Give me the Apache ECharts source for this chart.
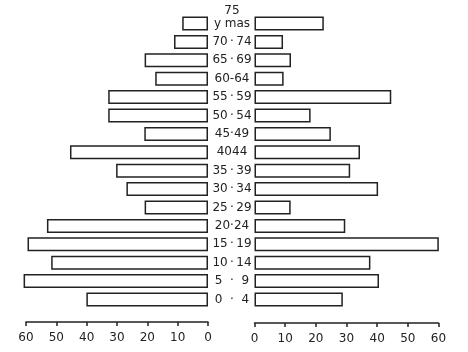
<!DOCTYPE html>
<html>
<head>
<meta charset="utf-8">
<script src="https://cdn.jsdelivr.net/npm/echarts@6/dist/echarts.min.js"></script>
<style>
  html, body { margin: 0; padding: 0; background: #fff; }
  #chart { width: 468px; height: 352px; }
</style>
</head>
<body>
<div id="chart"></div>
<script>
// Age groups, bottom to top
const ageGroups = [
  '0  \u00b7  4', '5  \u00b7  9', '10\u2009\u00b7\u200914', '15\u2009\u00b7\u200919',
  '20\u00b724', '25\u2009\u00b7\u200929', '30\u2009\u00b7\u200934', '35\u2009\u00b7\u200939',
  '4044', '45\u00b749', '50\u2009\u00b7\u200954', '55\u2009\u00b7\u200959',
  '60-64', '65\u2009\u00b7\u200969', '70\u2009\u00b7\u200974', '75\ny mas'
];
// Left side of the pyramid
const leftValues = [40.1, 60.8, 51.7, 59.5, 53.1, 20.9, 26.9, 30.3, 45.5, 21.0, 32.9, 32.9, 17.4, 20.9, 11.2, 8.5];
// Right side of the pyramid
const rightValues = [28.8, 40.6, 37.8, 60.1, 29.6, 11.8, 40.3, 31.2, 34.4, 24.9, 18.3, 44.6, 9.5, 11.9, 9.3, 22.6];
// Scale ticks shared by both sides
const scaleMin = 0, scaleMax = 60, scaleStep = 10;

const ink = '#222';
const font = 'DejaVu Sans';

const chart = echarts.init(document.getElementById('chart'), null, { renderer: 'canvas' });

const valueAxis = (gridIndex, inverse, offset) => ({
  type: 'value', gridIndex, inverse,
  min: scaleMin, max: scaleMax, interval: scaleStep,
  position: 'bottom', offset,
  splitLine: { show: false },
  axisLine: { show: true, lineStyle: { color: ink, width: 1.5 } },
  axisTick: { show: true, length: 4, lineStyle: { color: ink, width: 1.5 } },
  axisLabel: { color: ink, fontFamily: font, fontSize: 12, margin: 10 }
});

const barSeries = (idx, data) => ({
  type: 'bar', xAxisIndex: idx, yAxisIndex: idx, data,
  barWidth: 14, clip: false, silent: true,
  itemStyle: { color: '#fff', borderColor: ink, borderWidth: 1.5 }
});

chart.setOption({
  animation: false,
  backgroundColor: '#fff',
  grid: [
    { left: 26, width: 182, top: 14.3, height: 294.4 },
    { left: 254.5, width: 184, top: 14.3, height: 294.4 }
  ],
  xAxis: [ valueAxis(0, true, 13.3), valueAxis(1, false, 14.3) ],
  yAxis: [
    { type: 'category', gridIndex: 0, data: ageGroups, show: false },
    {
      type: 'category', gridIndex: 1, data: ageGroups, position: 'left',
      axisLine: { show: false }, axisTick: { show: false },
      axisLabel: {
        interval: 0, hideOverlap: false, showMinLabel: true, showMaxLabel: true,
        color: ink, fontFamily: font, fontSize: 12, lineHeight: 13,
        align: 'center', margin: 22.5, padding: [7, 0, 0, 0],
        formatter: v => v.indexOf('\n') >= 0 ? v + '\n ' : v
      }
    }
  ],
  series: [ barSeries(0, leftValues), barSeries(1, rightValues) ]
});
</script>
</body>
</html>
